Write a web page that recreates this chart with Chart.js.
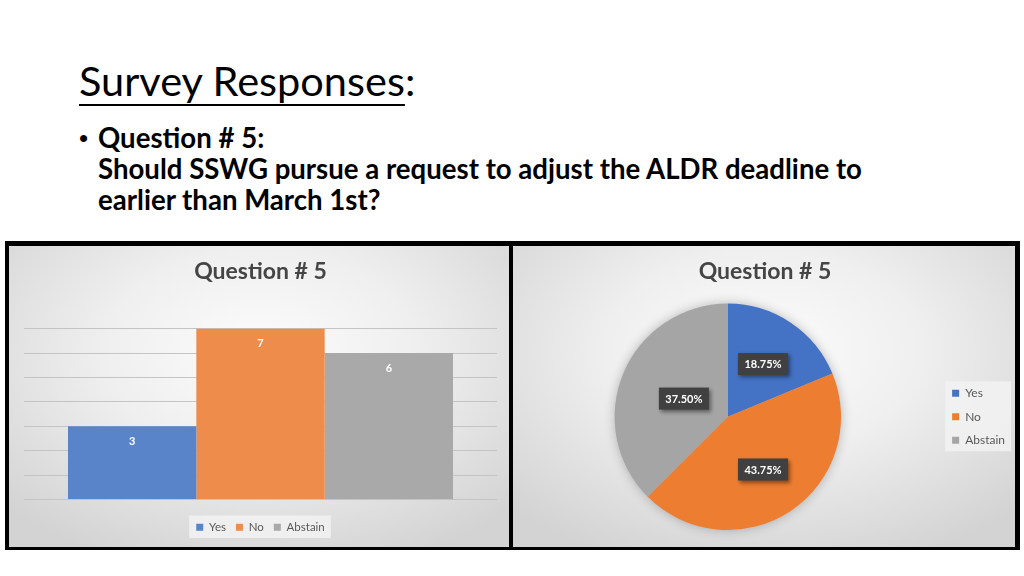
<!DOCTYPE html>
<html>
<head>
<meta charset="utf-8">
<script src="https://cdn.jsdelivr.net/npm/chart.js@4.4.1/dist/chart.umd.min.js"></script>
<style>
  body { margin: 0; width: 1024px; height: 576px; background: #fff; position: relative; overflow: hidden; font-family: Lato, "Noto Sans", sans-serif; }
  #heading { position: absolute; left: 79px; top: 56px; font-size: 41.5px; line-height: 48px; color: #000; white-space: nowrap; }
  #heading u { text-decoration-thickness: 2px; text-underline-offset: 8px; }
  #bullet { position: absolute; left: 79px; top: 123px; font: 26px/30px "Liberation Sans", sans-serif; }
  #question { position: absolute; left: 98px; top: 122px; font-size: 27.6px; line-height: 31px; font-weight: bold; color: #000; white-space: nowrap; }
  #frame { position: absolute; left: 5px; top: 241px; width: 1015px; height: 309px; background: #000; }
  .panel { position: absolute; top: 246px; height: 301px;
    background: radial-gradient(ellipse 70% 75% at 50% 35%, #fcfcfc 0%, #efefef 45%, #d3d3d3 100%); }
  #leftPanel { left: 9px; width: 500px; }
  #rightPanel { left: 513px; width: 502px; }
</style>
</head>
<body>
<div id="heading"><u>Survey Responses</u>:</div>
<div id="bullet">•</div>
<div id="question">Question # 5:<br>Should SSWG pursue a request to adjust the ALDR deadline to<br>earlier than March 1st?</div>
<div id="frame"></div>
<div class="panel" id="leftPanel"><canvas id="barChart" width="500" height="301"></canvas></div>
<div class="panel" id="rightPanel"><canvas id="pieChart" width="502" height="301"></canvas></div>
<script>
const chartTitle = 'Question # 5'
const categories = ['Question # 5']
const answers = ['Yes', 'No', 'Abstain']
const counts = [3, 7, 6]
const yTicks = [0, 1, 2, 3, 4, 5, 6, 7]

const barColors = ['#5a84c9', '#ee8c4b', '#a9a9a9']
const pieColors = ['#4472c4', '#ed7d31', '#a5a5a5']
const labelDist = [0.56, 0.56, 0.42]
const font = 'Lato'

Chart.defaults.font.family = font
Chart.defaults.color = '#595959'

// light box behind the legend items
const legendBox = {
    id: 'legendBox',
    beforeDraw(chart) {
        const boxes = chart.legend.legendHitBoxes
        if (!boxes || !boxes.length) return
        let l = Infinity, t = Infinity, r = -Infinity, b = -Infinity
        boxes.forEach(h => {
            l = Math.min(l, h.left); t = Math.min(t, h.top)
            r = Math.max(r, h.left + h.width); b = Math.max(b, h.top + h.height)
        })
        const ctx = chart.ctx
        ctx.save()
        ctx.fillStyle = 'rgba(242,242,242,0.85)'
        ctx.fillRect(l - 7, t - 6, r - l + 13, b - t + 11)
        ctx.restore()
    }
}

const barLabels = {
    id: 'barLabels',
    afterDatasetsDraw(chart) {
        const ctx = chart.ctx
        ctx.save()
        ctx.fillStyle = '#fff'
        ctx.font = 'bold 11px ' + font
        ctx.textAlign = 'center'
        ctx.textBaseline = 'middle'
        chart.data.datasets.forEach((ds, i) => {
            chart.getDatasetMeta(i).data.forEach((bar, j) => {
                ctx.fillText(ds.data[j], bar.x, bar.y + 15)
            })
        })
        ctx.restore()
    }
}

const pieExtras = {
    id: 'pieExtras',
    beforeDatasetsDraw(chart) {
        const arc = chart.getDatasetMeta(0).data[0]
        if (!arc) return
        const ctx = chart.ctx
        ctx.save()
        ctx.shadowColor = 'rgba(0,0,0,0.3)'
        ctx.shadowBlur = 12
        ctx.fillStyle = '#bbb'
        ctx.beginPath()
        ctx.arc(arc.x, arc.y, arc.outerRadius - 1, 0, Math.PI * 2)
        ctx.fill()
        ctx.restore()
    },
    afterDatasetsDraw(chart) {
        const ctx = chart.ctx
        const data = chart.data.datasets[0].data
        const total = data.reduce((a, b) => a + b, 0)
        ctx.save()
        ctx.font = 'bold 11px ' + font
        ctx.textAlign = 'center'
        ctx.textBaseline = 'middle'
        chart.getDatasetMeta(0).data.forEach((arc, i) => {
            const mid = (arc.startAngle + arc.endAngle) / 2
            const r = arc.outerRadius * labelDist[i]
            const x = arc.x + Math.cos(mid) * r
            const y = arc.y + Math.sin(mid) * r
            const txt = (data[i] / total * 100).toFixed(2) + '%'
            ctx.shadowColor = 'rgba(0,0,0,0.45)'
            ctx.shadowBlur = 4
            ctx.shadowOffsetX = 2
            ctx.shadowOffsetY = 2
            ctx.fillStyle = '#404040'
            ctx.fillRect(x - 25, y - 11, 50, 22)
            ctx.shadowColor = 'transparent'
            ctx.fillStyle = '#fff'
            ctx.fillText(txt, x, y + 0.5)
        })
        ctx.restore()
    }
}

const titleOpts = {
    display: true,
    text: chartTitle,
    color: '#454545',
    font: { size: 23, weight: 'bold' },
    padding: { top: 12, bottom: 43 }
}

new Chart(document.getElementById('barChart'), {
    type: 'bar',
    data: {
        labels: categories,
        datasets: answers.map((a, i) => ({
            label: a,
            data: [counts[i]],
            backgroundColor: barColors[i],
            categoryPercentage: 0.814,
            barPercentage: 1
        }))
    },
    options: {
        responsive: false,
        animation: false,
        layout: { padding: { left: 15, right: 12, top: 0, bottom: 4 } },
        plugins: {
            title: titleOpts,
            legend: {
                position: 'bottom',
                labels: { boxWidth: 7, boxHeight: 7, padding: 10, font: { size: 11.5 }, color: '#595959' }
            },
            tooltip: { enabled: false }
        },
        scales: {
            x: {
                grid: { display: false },
                border: { display: false },
                ticks: { display: false },
                afterFit: s => { s.height = 12 }
            },
            y: {
                min: yTicks[0],
                max: yTicks[yTicks.length - 1],
                afterBuildTicks: s => { s.ticks = yTicks.map(v => ({ value: v })) },
                grid: { color: '#c4c4c4', lineWidth: 1, drawTicks: false },
                border: { display: false },
                ticks: { display: false },
                afterFit: s => { s.width = 0 }
            }
        }
    },
    plugins: [legendBox, barLabels]
})

new Chart(document.getElementById('pieChart'), {
    type: 'pie',
    data: {
        labels: answers,
        datasets: [{
            data: counts,
            backgroundColor: pieColors,
            borderWidth: 0
        }]
    },
    options: {
        responsive: false,
        animation: false,
        layout: { padding: { left: 2, right: 0, top: 0, bottom: 17 } },
        plugins: {
            title: Object.assign({}, titleOpts, { padding: { top: 12, bottom: 18 } }),
            legend: {
                position: 'right',
                fullSize: false,
                labels: { boxWidth: 7, boxHeight: 7, padding: 11.5, font: { size: 12 }, color: '#595959' }
            },
            tooltip: { enabled: false }
        }
    },
    plugins: [legendBox, pieExtras]
})
</script>
</body>
</html>
